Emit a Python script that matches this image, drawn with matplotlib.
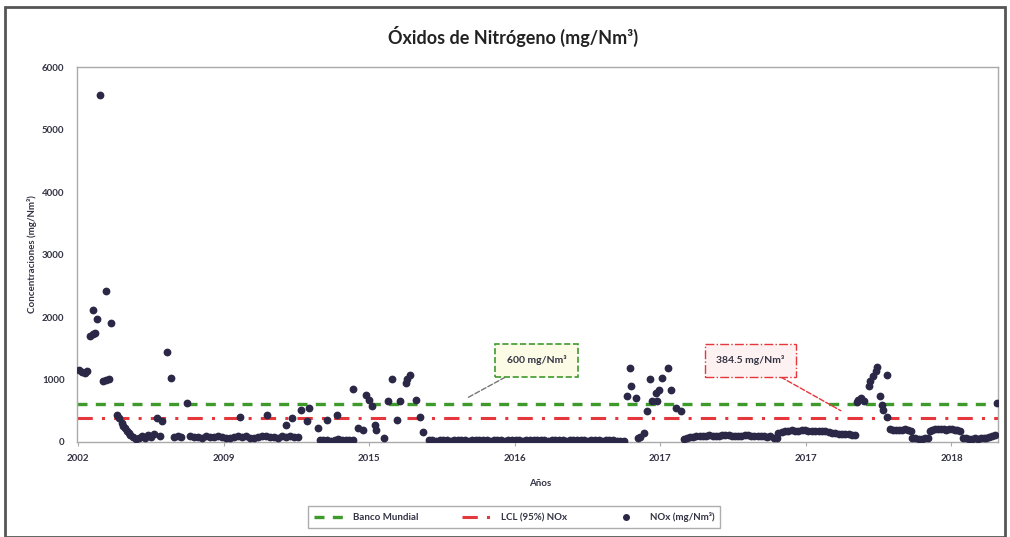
import numpy as np
import matplotlib.pyplot as plt
from matplotlib.lines import Line2D
from matplotlib.patches import Rectangle

plt.rcParams['font.family'] = ['Lato', 'DejaVu Sans']

# --- datos ---
titulo = 'Óxidos de Nitrógeno (mg/Nm³)'
etiquetas_x = ['2002', '2009', '2015', '2016', '2017', '2017', '2018']
banco_mundial = 600.0
lcl_95 = 384.5

# puntos sueltos (x en periodos, y en mg/Nm3)
x_sueltos = [0.01, 0.03, 0.05, 0.06, 0.08, 0.10, 0.12, 0.10, 0.13, 0.15,
             0.17, 0.19, 0.21, 0.19, 0.23, 0.27, 0.28, 0.30, 0.31, 0.32,
             0.34, 0.35, 0.36, 0.38, 0.40, 0.42, 0.44, 0.46, 0.48, 0.50,
             0.52, 0.54, 0.56, 0.58, 0.61, 0.64, 0.66, 0.69, 0.71, 0.75,
             1.11, 1.30, 1.43, 1.47, 1.53, 1.57, 1.59, 1.65, 1.71, 1.78,
             1.89, 1.92, 1.96, 1.98, 2.00, 2.02, 2.04, 2.05, 2.10, 2.13,
             2.16, 2.19, 2.21, 2.25, 2.26, 2.28, 2.32, 2.35, 2.37,
             3.77, 3.79, 3.80, 3.83, 3.85, 3.86, 3.89, 3.91, 3.93, 3.94,
             3.97, 3.98, 3.99, 4.01, 4.05, 4.07, 4.11, 4.14,
             5.35, 5.36, 5.38, 5.40, 5.43, 5.44, 5.46, 5.48, 5.49, 5.51,
             5.52, 5.53, 5.56, 5.56, 6.31]
y_sueltos = [1150, 1120, 1100, 1130, 1690, 1730, 1750, 2120, 1970, 5560,
             980, 990, 1000, 2410, 1910, 430, 380, 300, 260, 220,
             180, 140, 110, 80, 50, 60, 90, 70, 110, 80,
             130, 380, 90, 330, 1440, 1020, 80, 100, 80, 620,
             400, 430, 270, 385, 510, 330, 545, 225, 350, 430,
             850, 225, 190, 750, 670, 570, 270, 190, 60, 650,
             1000, 350, 650, 950, 1000, 1075, 670, 400, 165,
             730, 1180, 890, 700, 60, 85, 140, 490, 1000, 650,
             780, 650, 830, 1020, 1180, 830, 545, 490,
             640, 670, 700, 660, 890, 970, 1050, 1130, 1200, 730,
             590, 510, 1075, 400, 620]

# tramos continuos de mediciones (inicio, fin, valores)
tramo_1 = (0.77, 1.51, [90, 80, 85, 70, 95, 80, 75, 90, 85, 70, 60, 80, 95, 85,
                        90, 70, 60, 75, 95, 100, 85, 80, 70, 90, 85, 95, 80, 75])
tramo_2 = (1.66, 1.89, [30, 25, 35, 20, 30, 40, 25, 30, 35, 30])
tramo_3 = (2.41, 3.75, [30, 25, 20, 30, 35, 25, 20, 25, 30, 30, 25, 20, 25, 30,
                        35, 30, 25, 20, 25, 30, 25, 20, 30, 35, 30, 25, 20, 25,
                        30, 25, 30, 35, 25, 20, 25, 30, 30, 25, 20, 25, 30, 35,
                        30, 25, 20, 25, 30, 25, 20, 25, 30, 25, 20, 15, 20])
tramo_4 = (4.16, 4.80, [40, 60, 75, 85, 90, 95, 100, 100, 105, 100, 95, 100, 105,
                        110, 105, 100, 100, 95, 100, 105, 110, 100, 95, 90, 95,
                        90, 85, 90, 70, 60])
tramo_5 = (4.81, 5.34, [150, 165, 175, 180, 185, 180, 175, 185, 190, 180, 175, 170,
                        175, 180, 170, 160, 150, 140, 135, 130, 125, 120, 115, 110])
tramo_6 = (5.58, 5.72, [200, 190, 195, 185, 190, 200, 185, 180])
tramo_7 = (5.73, 5.84, [70, 60, 50, 55, 60, 65])
tramo_8 = (5.85, 6.06, [180, 190, 200, 210, 205, 200, 195, 210, 200, 190, 185, 170])
tramo_9 = (6.08, 6.30, [70, 60, 55, 50, 60, 55, 65, 60, 70, 80, 100, 110])
tramos = [tramo_1, tramo_2, tramo_3, tramo_4, tramo_5, tramo_6, tramo_7, tramo_8, tramo_9]

# --- armar series ---
xs = list(x_sueltos)
ys = list(y_sueltos)
for ini, fin, vals in tramos:
    xs += list(np.linspace(ini, fin, len(vals)))
    ys += vals

verde = '#3f9a2c'
rojo = '#e5373c'
puntos = '#2a2846'

fig = plt.figure(figsize=(10.1, 5.37), dpi=100)
ax = fig.add_axes([0.0762, 0.177, 0.912, 0.698])

ax.axhline(banco_mundial, color=verde, lw=2.4, ls=(0, (3, 2.5)), zorder=2)
ax.axhline(lcl_95, color=rojo, lw=2.2, ls=(0, (5, 3, 1, 3)), zorder=2)
ax.plot(xs, ys, 'o', color=puntos, ms=4.6, zorder=3)

ax.set_xlim(-0.007, 6.32)
ax.set_ylim(0, 6000)
ax.set_xticks(range(len(etiquetas_x)))
ax.set_xticklabels(etiquetas_x)
ax.set_yticks(range(0, 6001, 1000))
ax.tick_params(axis='x', length=3, color='#aaaaaa', labelsize=7, pad=6)
ax.tick_params(axis='y', length=0, labelsize=7, pad=9)
for t in ax.get_xticklabels() + ax.get_yticklabels():
    t.set_fontweight('bold')
    t.set_color('#333344')
for s in ax.spines.values():
    s.set_color('#aaaaaa')
    s.set_linewidth(1.0)

ax.set_xlabel('Años', fontsize=7, fontweight='bold', color='#333344')
ax.xaxis.set_label_coords(0.503, -0.098)
ax.set_ylabel('Concentraciones (mg/Nm³)', fontsize=7, fontweight='bold', color='#333344')
ax.yaxis.set_label_coords(-0.043, 0.5)

fig.text(0.508, 0.932, titulo, ha='center', va='center', fontsize=13,
         fontweight='bold', color='#222222')

# anotaciones
ax.annotate('600 mg/Nm³', xy=(2.67, 700), xytext=(3.15, 1310),
            ha='center', va='center', fontsize=7.5, fontweight='bold', color='#333344',
            bbox=dict(boxstyle='square,pad=1.1', fc='#fbfbe6', ec=verde, ls='--', lw=1.2),
            arrowprops=dict(arrowstyle='-', color='#777777', ls='--', lw=1.0,
                            shrinkA=0, shrinkB=0))
ax.annotate('384.5 mg/Nm³', xy=(5.24, 500), xytext=(4.62, 1310),
            ha='center', va='center', fontsize=7.5, fontweight='bold', color='#333344',
            bbox=dict(boxstyle='square,pad=1.1', fc='#fdf1f1', ec=rojo, ls='-.', lw=1.0),
            arrowprops=dict(arrowstyle='-', color=rojo, ls='--', lw=1.0,
                            shrinkA=0, shrinkB=0))

# leyenda
handles = [Line2D([], [], color=verde, lw=2.4, ls=(0, (3, 2.5))),
           Line2D([], [], color=rojo, lw=2.2, ls=(0, (5, 3, 1, 3))),
           Line2D([], [], color=puntos, marker='o', ls='none', ms=4)]
leg = fig.legend(handles, ['Banco Mundial', 'LCL (95%) NOx', 'NOx (mg/Nm³)'],
                 loc='center', bbox_to_anchor=(0.509, 0.037), ncol=3,
                 fontsize=7, frameon=True, fancybox=False, handlelength=3.2,
                 columnspacing=4.5, borderpad=0.6)
leg.get_frame().set_edgecolor('#999999')
for t in leg.get_texts():
    t.set_fontweight('bold')
    t.set_color('#333344')

# marco exterior
fig.patches.append(Rectangle((0.005, 0.0), 0.99, 0.987, transform=fig.transFigure,
                             fill=False, ec='#555555', lw=2.0))

fig.savefig('out.png', dpi=100)
